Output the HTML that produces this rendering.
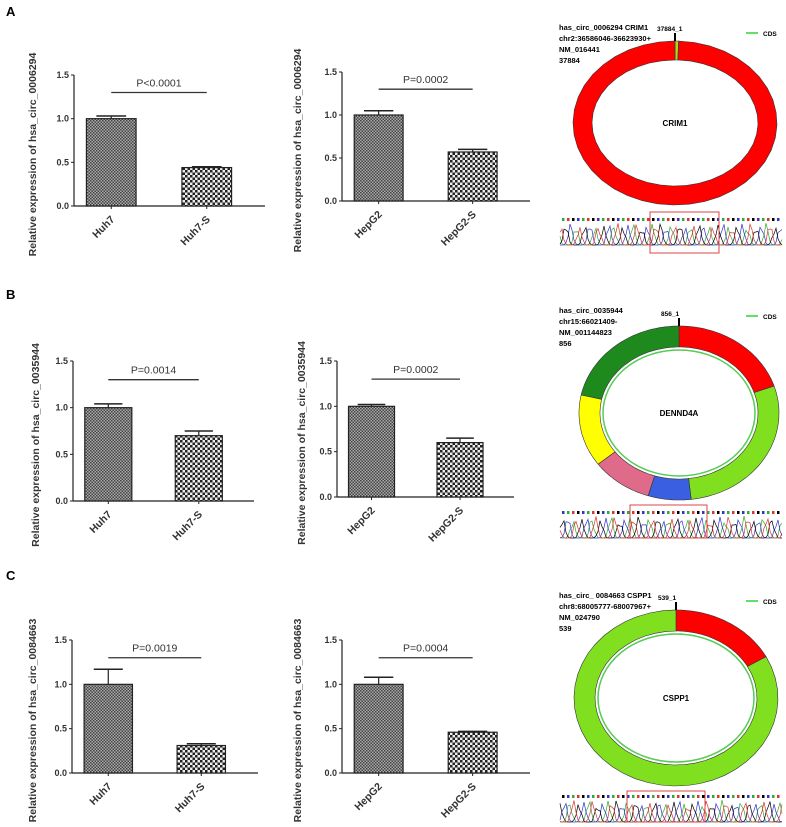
<!DOCTYPE html>
<html><head><meta charset="utf-8"><style>
html,body{margin:0;padding:0;background:#fff;width:786px;height:827px;overflow:hidden}
svg{display:block;font-family:"Liberation Sans",sans-serif}
</style></head><body>
<svg id="fig" width="786" height="827" viewBox="0 0 786 827" xmlns="http://www.w3.org/2000/svg">
<defs>
<pattern id="pDense" width="3" height="3" patternUnits="userSpaceOnUse"><rect width="3" height="3" fill="#aaa"/><rect width="1.5" height="1.5" fill="#444"/><rect x="1.5" y="1.5" width="1.5" height="1.5" fill="#444"/></pattern>
<pattern id="pCoarse" width="5" height="5" patternUnits="userSpaceOnUse"><rect width="5" height="5" fill="#eee"/><rect width="2.5" height="2.5" fill="#222"/><rect x="2.5" y="2.5" width="2.5" height="2.5" fill="#222"/></pattern>
</defs>
<text x="6" y="16" font-size="13" font-weight="bold">A</text>
<text x="6" y="299" font-size="13" font-weight="bold">B</text>
<text x="6" y="580" font-size="13" font-weight="bold">C</text>
<g id="charts"></g>
<g id="circles"></g>
</svg>
<script>
// chart data
const chartIds = ['a1','a2','b1','b2','c1','c2'];
const categories = [['Huh7','Huh7-S'],['HepG2','HepG2-S'],['Huh7','Huh7-S'],['HepG2','HepG2-S'],['Huh7','Huh7-S'],['HepG2','HepG2-S']];
const meanValues = [[1.0,0.44],[1.0,0.57],[1.0,0.70],[1.0,0.60],[1.0,0.31],[1.0,0.46]];
const errorValues = [[0.03,0.01],[0.05,0.03],[0.04,0.05],[0.02,0.05],[0.17,0.02],[0.08,0.01]];
const pLabels = ['P<0.0001','P=0.0002','P=0.0014','P=0.0002','P=0.0019','P=0.0004'];
const yTitles = ['hsa_circ_0006294','hsa_circ_0006294','hsa_circ_0035944','hsa_circ_0035944','hsa_circ_0084663','hsa_circ_0084663'];
const yTicks = [0,0.5,1.0,1.5];
const yTickLabels = ['0.0','0.5','1.0','1.5'];
const pLineLevel = 1.3;
// layout (not data)
const layouts = [
 {ax:74,y0:206,yTop:75,len:191,tx:36},
 {ax:342,y0:201,yTop:72,len:188,tx:301},
 {ax:73,y0:501,yTop:361,len:181,tx:39},
 {ax:337,y0:497,yTop:361,len:177,tx:305},
 {ax:72,y0:773,yTop:640,len:186,tx:36},
 {ax:342,y0:773,yTop:640,len:188,tx:301}
];
const NS='http://www.w3.org/2000/svg';
function mk(tag,attrs,parent,txt){const e=document.createElementNS(NS,tag);for(const k in attrs)e.setAttribute(k,attrs[k]);if(txt!==undefined)e.textContent=txt;parent.appendChild(e);return e;}
const chartsG=document.getElementById('charts');
chartIds.forEach((id,i)=>{
  const L=layouts[i];
  const g=mk('g',{},chartsG);
  
  
  const yScale=v=>L.y0-(v/1.5)*(L.y0-L.yTop);
  const bandW=L.len/2;
  const xBar=k=>L.ax+bandW*k+bandW*0.13;
  const bw=bandW*0.52;
  // y axis
  const ya=mk('line',{x1:L.ax,y1:L.yTop,x2:L.ax,y2:L.y0,stroke:'#222','stroke-width':1.2},g);
  
  
  const xa=mk('line',{x1:L.ax,y1:L.y0,x2:L.ax+L.len,y2:L.y0,stroke:'#222','stroke-width':1.2},g);
  
  
  yTicks.forEach((t,j)=>{
    const y=yScale(t);
    mk('line',{x1:L.ax-3,y1:y,x2:L.ax,y2:y,stroke:'#222','stroke-width':1},g);
    const tl=mk('text',{x:L.ax-5,y:y+3,'font-size':9,'font-weight':'bold','text-anchor':'end',fill:'#333'},g,yTickLabels[j]);
    
    
  });
  const cy=(L.y0+L.yTop)/2+14;
  const tt=mk('text',{x:L.tx,y:cy,'font-size':10.5,'font-weight':'bold','text-anchor':'middle',fill:'#333',transform:`rotate(-90 ${L.tx} ${cy})`},g,'Relative expression of '+yTitles[i]);
  
  
  categories[i].forEach((c,k)=>{
    const x=xBar(k), v=meanValues[i][k], e=errorValues[i][k];
    const cxm=x+bw/2;
    const el=mk('line',{x1:cxm,y1:yScale(v),x2:cxm,y2:yScale(v+e),stroke:'#222','stroke-width':1.2},g);
    
    
    mk('line',{x1:cxm-bw*0.3,y1:yScale(v+e),x2:cxm+bw*0.3,y2:yScale(v+e),stroke:'#222','stroke-width':1.5},g);
    const r=mk('rect',{x:x,y:yScale(v),width:bw,height:L.y0-yScale(v),fill:k===0?'url(#pDense)':'url(#pCoarse)',stroke:'#222','stroke-width':1.2},g);
    
    
    mk('line',{x1:cxm,y1:L.y0,x2:cxm,y2:L.y0+3,stroke:'#222'},g);
    const lx=cxm+4, ly=L.y0+14;
    const xl=mk('text',{x:lx,y:ly,'font-size':10.5,'font-weight':'bold','text-anchor':'end',fill:'#333',transform:`rotate(-45 ${lx} ${ly})`},g,c);
    
    
  });
  const py=yScale(pLineLevel);
  const x1=xBar(0)+bw*0.5, x2=xBar(1)+bw*0.5;
  const pl=mk('line',{x1:x1,y1:py,x2:x2,y2:py,stroke:'#333','stroke-width':1.3},g);
  
  
  const pt=mk('text',{x:(x1+x2)/2,y:py-6,'font-size':10.5,'text-anchor':'middle',fill:'#333'},g,pLabels[i]);
  
  
});

// circle diagrams
const circG=document.getElementById('circles');
const circles=[
 {cx:675,cy:123,rx:102,ry:82,w:19,segs:[[0,2,'#a8d820'],[2,360,'#ff0000']],inner:false,name:'CRIM1',
  lines:['has_circ_0006294 CRIM1','chr2:36586046-36623930+','NM_016441','37884'],ty:30,pos:'37884_1',
  seqY:215,box:[650,212,69,41],lbl:[]},
 {cx:679,cy:413,rx:100,ry:87,w:21,segs:[[0,72,'#ff0000'],[72,173,'#80e020'],[173,198,'#3a5fe0'],[198,234,'#e06a8a'],[234,282,'#ffff00'],[282,360,'#1e8a1e']],inner:true,name:'DENND4A',
  lines:['has_circ_0035944','chr15:66021409-','NM_001144823','856'],ty:313,pos:'856_1',
  seqY:508,box:[630,505,77,33],lbl:[]},
 {cx:676,cy:698,rx:102,ry:88,w:21,segs:[[0,62,'#ff0000'],[62,360,'#80e020']],inner:true,name:'CSPP1',
  lines:['has_circ_ 0084663 CSPP1','chr8:68005777-68007967+','NM_024790','539'],ty:598,pos:'539_1',
  seqY:792,box:[627,791,78,31],lbl:[]}
];
function pt(c,rx,ry,t){const a=t*Math.PI/180;return [c.cx+rx*Math.sin(a),c.cy-ry*Math.cos(a)];}
circles.forEach((c,i)=>{
  const g=mk('g',{},circG);
  
  
  c.segs.forEach(s=>{
    const [a0,a1,col]=s;
    let d='';const n=40;
    for(let k=0;k<=n;k++){const t=a0+(a1-a0)*k/n;const p=pt(c,c.rx,c.ry,t);d+=(k?'L':'M')+p[0].toFixed(1)+' '+p[1].toFixed(1);}
    for(let k=n;k>=0;k--){const t=a0+(a1-a0)*k/n;const p=pt(c,c.rx-c.w,c.ry-c.w,t);d+='L'+p[0].toFixed(1)+' '+p[1].toFixed(1);}
    mk('path',{d:d+'Z',fill:col,stroke:'#333','stroke-width':0.6},g);
  });
  if(c.inner) mk('ellipse',{cx:c.cx,cy:c.cy,rx:c.rx-c.w-3,ry:c.ry-c.w-3,fill:'none',stroke:'#5c5','stroke-width':1.5},g);
  mk('line',{x1:c.cx,y1:c.cy-c.ry-8,x2:c.cx,y2:c.cy-c.ry,stroke:'#000','stroke-width':2},g);
  const nm=mk('text',{x:c.cx,y:c.cy+3,'font-size':8,'font-weight':'bold','text-anchor':'middle'},g,c.name);
  
  
  c.lines.forEach((l,k)=>{mk('text',{x:559,y:c.ty+k*11,'font-size':7.5,'font-weight':'bold'},g,l);});
  mk('text',{x:c.cx-18,y:c.cy-c.ry-10,'font-size':6.5,'font-weight':'bold'},g,c.pos);
  mk('line',{x1:746,y1:c.ty+3,x2:758,y2:c.ty+3,stroke:'#6d6','stroke-width':2},g);
  const lg=mk('text',{x:763,y:c.ty+6,'font-size':6.5,'font-weight':'bold'},g,'CDS');
  
  
  // chromatogram decoration
  const sg=mk('g',{},g);
  
  
  const cols=['#3a3','#33c','#000','#d33'];
  for(let k=0;k<44;k++){mk('rect',{x:562+k*5,y:c.seqY+3,width:2.5,height:3,fill:cols[(k*7+i)%4]},sg);}
  cols.forEach((col,j)=>{
    let d='';
    for(let x=560;x<=782;x+=2){const h=(Math.sin(x*0.33+j*1.7+i)+1)*0.5;const amp=h*h*h*(12+((x*3+j*5)%11));d+=(x===560?'M':'L')+x+' '+(c.seqY+30-amp).toFixed(1);}
    mk('path',{d:d,fill:'none',stroke:col,'stroke-width':0.7},sg);
  });
  mk('rect',{x:c.box[0],y:c.box[1],width:c.box[2],height:c.box[3],fill:'none',stroke:'#d44','stroke-width':1},g);
});
</script>
</body></html>
